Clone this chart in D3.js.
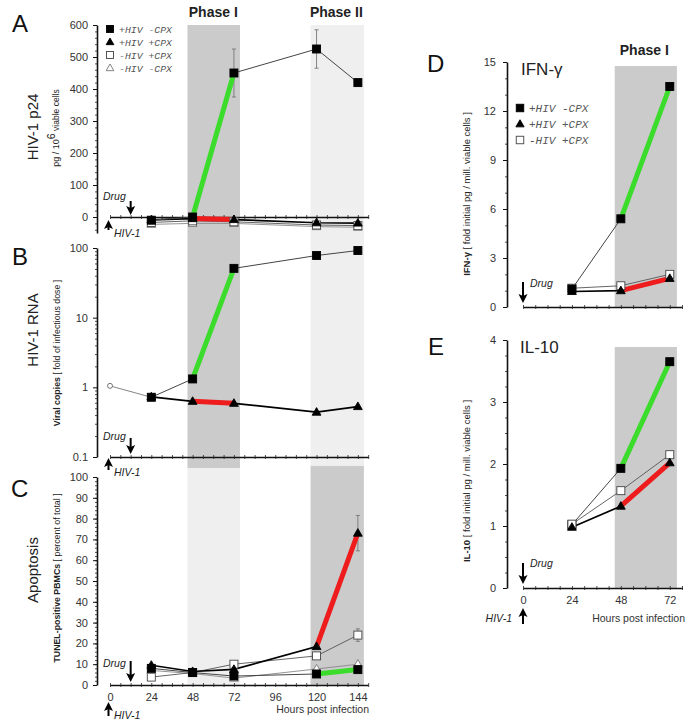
<!DOCTYPE html>
<html><head><meta charset="utf-8">
<script src="https://cdn.jsdelivr.net/npm/d3@7"></script>
<style>body{margin:0;background:#fff;} svg{display:block;}</style>
</head><body><svg id="c" width="689" height="724"></svg>
<script>
// ---------------- DATA ----------------
const hoursLong = [24, 48, 72, 120, 144];
const hoursShort = [24, 48, 72];
const tickHoursLong = [0, 24, 48, 72, 96, 120, 144];
const tickHoursShort = [0, 24, 48, 72];
const legendLabelsA = ['+HIV -CPX', '+HIV +CPX', '-HIV +CPX', '-HIV -CPX'];
const legendLabelsD = ['+HIV -CPX', '+HIV +CPX', '-HIV +CPX'];

// A: HIV-1 p24 (pg / 10^6 viable cells)
const p24Ticks = [0, 100, 200, 300, 400, 500, 600];
const p24HivNoCpx = [-10, 0, 450, 525, 420];
const p24HivNoCpxErr = [0, 0, 75, 60, 10];
const p24HivCpx = [-9, -5, -8, -18, -19];
const p24NoHivCpx = [-17, -12, -15, -25, -27];
const p24NoHivNoCpx = [-23, -20, -20, -30, -32];

// B: HIV-1 RNA (fold of infectious dose)
const rnaTicks = [0.1, 1, 10, 100];
const rnaInitialHours = [0, 24];
const rnaInitial = [1.05, 0.72];
const rnaHivNoCpx = [0.72, 1.32, 51, 78, 92];
const rnaHivCpx = [0.73, 0.63, 0.59, 0.44, 0.53];

// C: Apoptosis (percent of total)
const apoTicks = [0, 10, 20, 30, 40, 50, 60, 70, 80, 90, 100];
const apoHivCpx = [9.5, 6.5, 7.5, 18.5, 73];
const apoHivCpxErr = [0, 0, 0, 0, 8.5];
const apoNoHivCpx = [3.8, 6, 10, 14, 24];
const apoNoHivCpxErr = [0, 0, 0, 0, 3];
const apoNoHivNoCpx = [7, 5.5, 3.3, 7.7, 10];
const apoHivNoCpx = [8, 6, 4.3, 5.3, 7.4];

// D: IFN-gamma (fold initial)
const ifnTicks = [0, 3, 6, 9, 12, 15];
const ifnHivNoCpx = [1.1, 5.4, 13.5];
const ifnHivCpx = [0.95, 1.0, 1.75];
const ifnNoHivCpx = [1.15, 1.3, 2.0];

// E: IL-10 (fold initial)
const il10Ticks = [0, 1, 2, 3, 4];
const il10HivNoCpx = [1.02, 1.93, 3.65];
const il10HivCpx = [0.98, 1.32, 2.02];
const il10NoHivCpx = [1.03, 1.57, 2.15];

// phase windows (hours)
const phase1 = [45, 75.5];
const phase2 = [116.5, 147.5];

// ---------------- STYLE ----------------
const FONT = '"Liberation Sans", Arial, Helvetica, sans-serif';
const MONO = '"Liberation Mono", "DejaVu Sans Mono", monospace';
const DARK = '#cbcbcb', LIGHT = '#efefef';
const GREEN = '#3bdc2c', RED = '#ee1c1c';
const STY = {
  hivNoCpx: {stroke: '#444', w: 1, sym: 'sq', fill: '#000'},
  hivCpx: {stroke: '#000', w: 1.7, sym: 'tri', fill: '#000'},
  noHivCpx: {stroke: '#555', w: 0.9, sym: 'sq', fill: '#fff'},
  noHivNoCpx: {stroke: '#888', w: 0.9, sym: 'tri', fill: '#fff'}
};

const svg = d3.select('#c');
svg.append('rect').attr('width', 689).attr('height', 724).attr('fill', '#fff');

// ---------------- SCALES ----------------
const xL = d3.scaleLinear().domain([0, 150]).range([110, 368.2]);
const xR = d3.scaleLinear().domain([0, 78]).range([523, 682]);
const yA = d3.scaleLinear().domain([-50, 600]).range([233, 25]);
const yB = d3.scaleLog().domain([0.1, 100]).range([457, 248]);
const yC = d3.scaleLinear().domain([0, 100]).range([685, 477]);
const yD = d3.scaleLinear().domain([0, 15]).range([307, 62]);
const yE = d3.scaleLinear().domain([0, 4]).range([588, 340]);

// ---------------- BANDS ----------------
const bands = svg.append('g');
function band(x, h, y0, y1, col) {
  bands.append('rect').attr('x', x(h[0])).attr('width', x(h[1]) - x(h[0]))
    .attr('y', y0).attr('height', y1 - y0).attr('fill', col);
}
band(xL, phase1, 25, 468, DARK);
band(xL, phase2, 25, 466, LIGHT);
band(xL, phase1, 468, 685, LIGHT);
band(xL, phase2, 466, 685, DARK);
band(xR, phase1, 66, 307, DARK);
band(xR, phase1, 347, 588, DARK);

// ---------------- AXES ----------------
function yAxis(scale, x, majors, minors, fmt, pad) {
  const g = svg.append('g').attr('transform', `translate(${x},0)`);
  g.call(d3.axisLeft(scale).tickValues(minors).tickSize(2).tickSizeOuter(0).tickFormat(''));
  g.select('.domain').attr('stroke', '#111').attr('stroke-width', 1.6);
  g.selectAll('.tick line').attr('stroke', '#222').attr('stroke-width', 0.8);
  const g2 = svg.append('g').attr('transform', `translate(${x},0)`);
  g2.call(d3.axisLeft(scale).tickValues(majors).tickSize(4).tickPadding(pad).tickSizeOuter(0).tickFormat(fmt));
  g2.select('.domain').remove();
  g2.selectAll('.tick line').attr('stroke', '#111').attr('stroke-width', 1);
  g2.selectAll('text').attr('font-family', FONT).attr('font-size', 11).attr('fill', '#333');
  return g2;
}
yAxis(yA, 97, p24Ticks, d3.range(-40, 601, 20), d3.format('d'), 5);
yAxis(yB, 97, rnaTicks, [0.2,0.3,0.4,0.5,0.6,0.7,0.8,0.9,2,3,4,5,6,7,8,9,20,30,40,50,60,70,80,90], d => d < 1 ? '0.1' : d3.format('d')(d), 5);
yAxis(yC, 97, apoTicks, d3.range(0, 101, 2), d3.format('d'), 5);
yAxis(yD, 507, ifnTicks, d3.range(0, 16, 1), d3.format('d'), 7);
yAxis(yE, 507, il10Ticks, d3.range(0, 4.01, 0.25), d3.format('d'), 7);

function xAxis(scale, y, maxH, labels) {
  const g = svg.append('g').attr('transform', `translate(0,${y})`);
  g.call(d3.axisBottom(scale).tickValues(d3.range(0, maxH + 0.1, 6)).tickSize(2).tickSizeOuter(0).tickFormat(''));
  g.select('.domain').attr('stroke', '#111').attr('stroke-width', 1.4);
  g.selectAll('.tick line').attr('y1', -2).attr('y2', 2).attr('stroke', '#222').attr('stroke-width', 0.8);
  if (labels) {
    const g2 = svg.append('g').attr('transform', `translate(0,${y})`);
    g2.call(d3.axisBottom(scale).tickValues(labels).tickSize(0).tickPadding(8).tickFormat(d3.format('d')));
    g2.select('.domain').remove();
    g2.selectAll('text').attr('font-family', FONT).attr('font-size', 11).attr('fill', '#333');
  }
}
xAxis(xL, yA(0), 150, null);
xAxis(xL, yB(0.1), 150, null);
xAxis(xL, yC(0), 150, tickHoursLong);
xAxis(xR, yD(0), 78, null);
xAxis(xR, yE(0), 78, tickHoursShort);

// ---------------- MARKS ----------------
const marks = svg.append('g');
function sym(g, type, cx, cy, fill, stroke, s) {
  s = s || 8;
  if (type === 'sq') {
    g.append('rect').attr('x', cx - s / 2).attr('y', cy - s / 2).attr('width', s).attr('height', s)
      .attr('fill', fill).attr('stroke', fill === '#000' ? '#000' : '#444').attr('stroke-width', 0.9);
  } else if (type === 'tri') {
    const h = s * 0.95, w = s * 1.1;
    g.append('path').attr('d', `M${cx},${cy - h * 0.6}L${cx + w / 2},${cy + h * 0.4}L${cx - w / 2},${cy + h * 0.4}Z`)
      .attr('fill', fill).attr('stroke', fill === '#000' ? '#000' : '#777').attr('stroke-width', 0.9);
  } else if (type === 'circ') {
    g.append('circle').attr('cx', cx).attr('cy', cy).attr('r', s / 2)
      .attr('fill', '#fff').attr('stroke', '#666').attr('stroke-width', 0.9);
  }
}
function seriesLine(x, y, hours, vals, st) {
  const line = d3.line().x((d, i) => x(hours[i])).y(d => y(d));
  marks.append('path').attr('d', line(vals)).attr('fill', 'none')
    .attr('stroke', st.stroke).attr('stroke-width', st.w);
}
function highlight(x, y, hours, vals, i0, i1, col) {
  const line = d3.line().x(d => x(d[0])).y(d => y(d[1]));
  marks.append('path').attr('d', line([[hours[i0], vals[i0]], [hours[i1], vals[i1]]]))
    .attr('fill', 'none').attr('stroke', col).attr('stroke-width', 5);
}
function errBars(x, y, hours, vals, errs) {
  vals.forEach((v, i) => {
    if (!errs[i]) return;
    const cx = x(hours[i]), t = y(v + errs[i]), b = y(v - errs[i]);
    marks.append('line').attr('x1', cx).attr('x2', cx).attr('y1', t).attr('y2', b).attr('stroke', '#777').attr('stroke-width', 0.9);
    [t, b].forEach(yy => marks.append('line').attr('x1', cx - 2).attr('x2', cx + 2).attr('y1', yy).attr('y2', yy).attr('stroke', '#777').attr('stroke-width', 0.9));
  });
}
function markers(x, y, hours, vals, st, s) {
  vals.forEach((v, i) => sym(marks, st.sym, x(hours[i]), y(v), st.fill, st.stroke, s));
}

// Panel A
seriesLine(xL, yA, hoursLong, p24NoHivNoCpx, STY.noHivNoCpx);
seriesLine(xL, yA, hoursLong, p24NoHivCpx, STY.noHivCpx);
seriesLine(xL, yA, hoursLong, p24HivCpx, STY.hivCpx);
seriesLine(xL, yA, hoursLong, p24HivNoCpx, STY.hivNoCpx);
errBars(xL, yA, hoursLong, p24HivNoCpx, p24HivNoCpxErr);
highlight(xL, yA, hoursLong, p24HivCpx, 1, 2, RED);
highlight(xL, yA, hoursLong, p24HivNoCpx, 1, 2, GREEN);
markers(xL, yA, hoursLong, p24NoHivNoCpx, STY.noHivNoCpx);
markers(xL, yA, hoursLong, p24NoHivCpx, STY.noHivCpx);
markers(xL, yA, hoursLong, p24HivNoCpx, STY.hivNoCpx);
markers(xL, yA, hoursLong, p24HivCpx, STY.hivCpx);

// Panel B
seriesLine(xL, yB, rnaInitialHours, rnaInitial, {stroke: '#777', w: 0.9});
seriesLine(xL, yB, hoursLong, rnaHivCpx, STY.hivCpx);
seriesLine(xL, yB, hoursLong, rnaHivNoCpx, STY.hivNoCpx);
highlight(xL, yB, hoursLong, rnaHivCpx, 1, 2, RED);
highlight(xL, yB, hoursLong, rnaHivNoCpx, 1, 2, GREEN);
sym(marks, 'circ', xL(rnaInitialHours[0]), yB(rnaInitial[0]), '#fff', '#666', 5);
markers(xL, yB, hoursLong, rnaHivNoCpx, STY.hivNoCpx);
markers(xL, yB, hoursLong, rnaHivCpx, STY.hivCpx);

// Panel C
seriesLine(xL, yC, hoursLong, apoNoHivNoCpx, STY.noHivNoCpx);
seriesLine(xL, yC, hoursLong, apoNoHivCpx, STY.noHivCpx);
seriesLine(xL, yC, hoursLong, apoHivNoCpx, STY.hivNoCpx);
seriesLine(xL, yC, hoursLong, apoHivCpx, STY.hivCpx);
errBars(xL, yC, hoursLong, apoHivCpx, apoHivCpxErr);
errBars(xL, yC, hoursLong, apoNoHivCpx, apoNoHivCpxErr);
highlight(xL, yC, hoursLong, apoHivCpx, 3, 4, RED);
highlight(xL, yC, hoursLong, apoHivNoCpx, 3, 4, GREEN);
markers(xL, yC, hoursLong, apoNoHivCpx, STY.noHivCpx);
markers(xL, yC, hoursLong, apoNoHivNoCpx, STY.noHivNoCpx);
markers(xL, yC, hoursLong, apoHivNoCpx, STY.hivNoCpx);
markers(xL, yC, hoursLong, apoHivCpx, STY.hivCpx);

// Panel D
seriesLine(xR, yD, hoursShort, ifnNoHivCpx, STY.noHivCpx);
seriesLine(xR, yD, hoursShort, ifnHivCpx, STY.hivCpx);
seriesLine(xR, yD, hoursShort, ifnHivNoCpx, STY.hivNoCpx);
highlight(xR, yD, hoursShort, ifnHivCpx, 1, 2, RED);
highlight(xR, yD, hoursShort, ifnHivNoCpx, 1, 2, GREEN);
markers(xR, yD, hoursShort, ifnNoHivCpx, STY.noHivCpx);
markers(xR, yD, hoursShort, ifnHivCpx, STY.hivCpx);
markers(xR, yD, hoursShort, ifnHivNoCpx, STY.hivNoCpx);

// Panel E
seriesLine(xR, yE, hoursShort, il10HivCpx, STY.hivCpx);
seriesLine(xR, yE, hoursShort, il10NoHivCpx, STY.noHivCpx);
seriesLine(xR, yE, hoursShort, il10HivNoCpx, STY.hivNoCpx);
highlight(xR, yE, hoursShort, il10HivCpx, 1, 2, RED);
highlight(xR, yE, hoursShort, il10HivNoCpx, 1, 2, GREEN);
markers(xR, yE, hoursShort, il10HivNoCpx, STY.hivNoCpx);
markers(xR, yE, hoursShort, il10NoHivCpx, STY.noHivCpx);
markers(xR, yE, hoursShort, il10HivCpx, STY.hivCpx);

// ---------------- LEGENDS ----------------
const legStyles = [STY.hivNoCpx, STY.hivCpx, STY.noHivCpx, STY.noHivNoCpx];
function legend(labels, x, y0, dy, fs, s) {
  labels.forEach((lab, i) => {
    const st = legStyles[i];
    sym(svg, st.sym, x, y0 + i * dy, st.fill, st.stroke, s);
    svg.append('text').attr('x', x + 9).attr('y', y0 + i * dy + 3.5).text(lab)
      .attr('font-family', MONO).attr('font-style', 'italic').attr('font-size', fs).attr('fill', '#555');
  });
}
legend(legendLabelsA, 110, 29, 13, 9.8, 7);
legend(legendLabelsD, 520, 108, 16, 11, 7.5);

// ---------------- TEXT ----------------
function txt(x, y, s, o) {
  o = o || {};
  const t = svg.append('text').attr('x', x).attr('y', y).text(s)
    .attr('font-family', FONT).attr('font-size', o.fs || 11).attr('fill', o.fill || '#222')
    .attr('text-anchor', o.anchor || 'start');
  if (o.bold) t.attr('font-weight', 'bold');
  if (o.italic) t.attr('font-style', 'italic');
  return t;
}
function vtxt(x, y, parts, fs) {
  const t = svg.append('text').attr('transform', `translate(${x},${y}) rotate(-90)`)
    .attr('text-anchor', 'middle').attr('font-family', FONT).attr('font-size', fs).attr('fill', '#222');
  parts.forEach(p => {
    const ts = t.append('tspan').text(p.t);
    if (p.bold) ts.attr('font-weight', 'bold');
    if (p.fs) ts.attr('font-size', p.fs);
    if (p.dy) ts.attr('dy', p.dy);
  });
  return t;
}
// panel letters
txt(12, 32, 'A', {fs: 24, fill: '#111'});
txt(12, 265, 'B', {fs: 24, fill: '#111'});
txt(11, 497, 'C', {fs: 24, fill: '#111'});
txt(427, 72, 'D', {fs: 24, fill: '#111'});
txt(428, 355, 'E', {fs: 24, fill: '#111'});
// phase labels
txt(xL(60), 17, 'Phase I', {fs: 14, bold: true, anchor: 'middle'});
txt(xL(131.5), 17, 'Phase II', {fs: 14, bold: true, anchor: 'middle'});
txt(xR(59.5), 55, 'Phase I', {fs: 14, bold: true, anchor: 'middle'});
// inside titles D/E
txt(521, 75, 'IFN-γ', {fs: 17});
txt(520, 353, 'IL-10', {fs: 17});
// y titles
vtxt(38, 127, [{t: 'HIV-1 p24'}], 15);
vtxt(59, 128, [{t: 'pg / 10', fs: 9}, {t: '6', fs: 10.5, dy: -4}, {t: ' viable cells', fs: 8.5, dy: 4}], 9);
vtxt(38, 330, [{t: 'HIV-1 RNA'}], 15);
vtxt(60, 353, [{t: 'Viral copies', bold: true}, {t: ' [ fold of infectious dose ]'}], 8.8);
vtxt(38, 570, [{t: 'Apoptosis'}], 15);
vtxt(60, 578, [{t: 'TUNEL-positive PBMCs', bold: true}, {t: ' [ percent of total ]'}], 8.8);
vtxt(470, 194, [{t: 'IFN-γ', bold: true}, {t: '  [ fold initial pg / mill. viable cells ]'}], 9.5);
vtxt(470, 481, [{t: 'IL-10', bold: true}, {t: ' [ fold initial pg / mill. viable cells ]'}], 9.5);
// x titles
txt(369, 713, 'Hours post infection', {fs: 10.5, anchor: 'end', fill: '#333'});
txt(685, 622, 'Hours post infection', {fs: 10.5, anchor: 'end', fill: '#333'});

// arrows
function arrow(x, yTail, yTip) {
  const dir = yTip > yTail ? 1 : -1;
  svg.append('line').attr('x1', x).attr('x2', x).attr('y1', yTail).attr('y2', yTip - dir * 6)
    .attr('stroke', '#000').attr('stroke-width', 2);
  svg.append('path').attr('d', `M${x},${yTip}L${x - 4.5},${yTip - dir * 9}L${x},${yTip - dir * 7}L${x + 4.5},${yTip - dir * 9}Z`).attr('fill', '#000');
}
// Drug / HIV-1 annotations left panels
[[200, 201, 215, 230, 220, 237], [440, 438, 454, 470, 458, 476], [667, 661, 682, 716, 702, 719]].forEach(a => {
  txt(103, a[0], 'Drug', {italic: true, fs: 10.5});
  arrow(xL(12), a[1], a[2]);
  arrow(108.5, a[3], a[4]);
  txt(114, a[5], 'HIV-1', {italic: true, fs: 10.5});
});
// right panels
txt(530, 287, 'Drug', {italic: true, fs: 10.5});
arrow(xR(0), 282, 303);
txt(530, 567, 'Drug', {italic: true, fs: 10.5});
arrow(xR(0), 563, 584);
arrow(xR(0), 624, 608);
txt(512, 622, 'HIV-1', {italic: true, fs: 10.5, anchor: 'end'});
</script>
</body></html>
